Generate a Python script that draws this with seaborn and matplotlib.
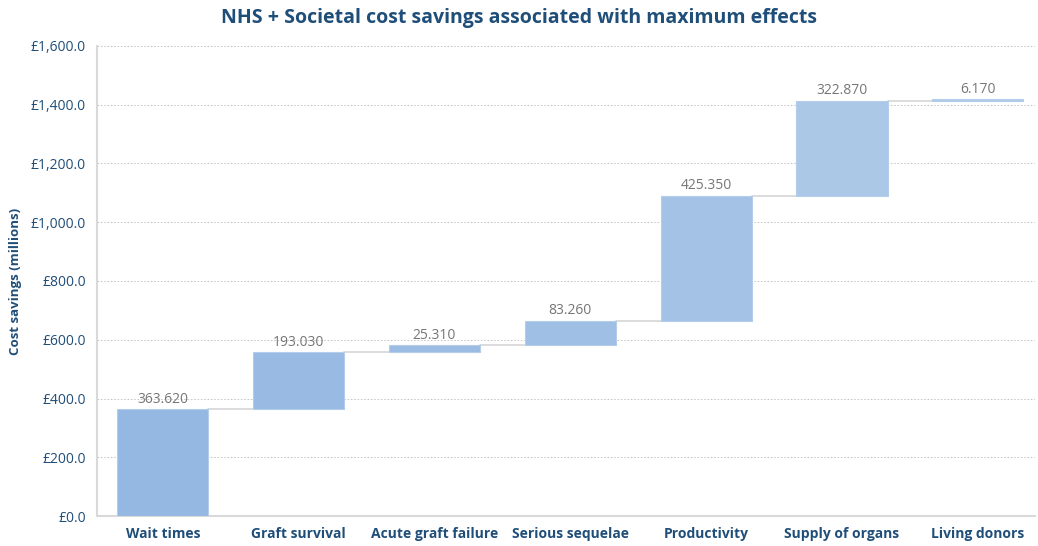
import numpy as np
import pandas as pd
import matplotlib
matplotlib.use("Agg")
import matplotlib.pyplot as plt
import seaborn as sns
from matplotlib.ticker import FuncFormatter

categories = ["Wait times", "Graft survival", "Acute graft failure", "Serious sequelae",
              "Productivity", "Supply of organs", "Living donors"]
values = [363.620, 193.030, 25.310, 83.260, 425.350, 322.870, 6.170]
yticks = [0, 200, 400, 600, 800, 1000, 1200, 1400, 1600]

sns.set_theme(style="white")
plt.rcParams['font.family'] = ['Open Sans', 'DejaVu Sans']

cum = np.cumsum(values)
bottoms = cum - np.array(values)
df = pd.DataFrame({"cat": categories, "val": values, "bottom": bottoms})

colors = ["#95B8E2", "#98BAE3", "#9BBCE3", "#9FBFE4", "#A3C2E5", "#ABC8E7", "#AFCAE8"]

fig = plt.figure(figsize=(10.38, 5.46), dpi=100)
ax = fig.add_axes([0.0934, 0.0549, 0.9036, 0.8609])

for i in range(len(categories)):
    sns.barplot(data=df.iloc[[i]], x="cat", y="val", order=categories, color=colors[i],
                saturation=1, bottom=float(df["bottom"].iloc[i]), width=0.67, ax=ax, zorder=3,
                edgecolor="#B4CDEB", linewidth=0.8, errorbar=None)

# connectors
for i in range(len(values) - 1):
    ax.plot([i + 0.335, i + 1 - 0.335], [cum[i], cum[i]], color="#D9D9D9", lw=1.3, zorder=2)

# labels
for i, (v, c) in enumerate(zip(values, cum)):
    ax.text(i, c + 8, f"{v:.3f}", ha="center", va="bottom", fontsize=10, color="#767676")

ax.set_ylim(0, 1600)
ax.set_xlim(-0.485, 6.42)
ax.set_yticks(yticks)
ax.yaxis.set_major_formatter(FuncFormatter(lambda y, p: f"£{y:,.1f}"))
ax.grid(axis="y", color="#BFBFBF", linestyle=(0, (2, 2)), lw=0.6, zorder=0)
ax.set_axisbelow(True)
for s in ["top", "right"]:
    ax.spines[s].set_visible(False)
for s in ["left", "bottom"]:
    ax.spines[s].set_color("#D9D9D9")
    ax.spines[s].set_linewidth(1.5)
ax.tick_params(axis="y", labelsize=10, labelcolor="#1F4E79", length=0, pad=8)
ax.tick_params(axis="x", labelsize=10, labelcolor="#1F4E79", length=0, pad=8)
for lbl in ax.get_xticklabels():
    lbl.set_fontweight("bold")
ax.set_xlabel("")
ax.set_ylabel("Cost savings (millions)", fontsize=9.5, fontweight="bold", color="#1F4E79", labelpad=6)
fig.suptitle("NHS + Societal cost savings associated with maximum effects", x=0.5, y=0.985,
             fontsize=14, fontweight="bold", color="#1F4E79")

fig.savefig("out.png", dpi=100)
